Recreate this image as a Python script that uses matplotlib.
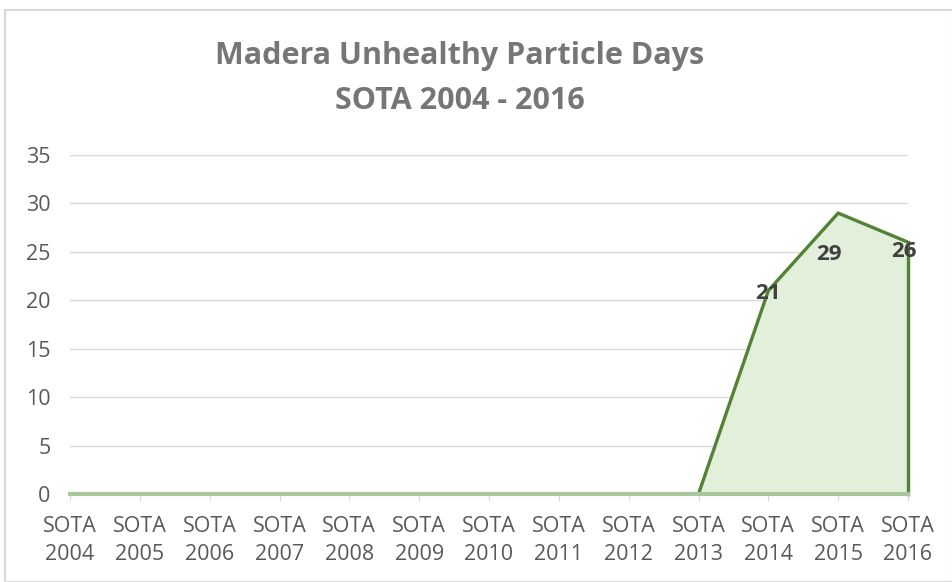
import matplotlib
matplotlib.use("Agg")
import matplotlib.pyplot as plt
from matplotlib.patches import Rectangle

years = ["2004", "2005", "2006", "2007", "2008", "2009", "2010",
         "2011", "2012", "2013", "2014", "2015", "2016"]
tick_labels = ["SOTA\n" + y for y in years]
days = [0, 0, 0, 0, 0, 0, 0, 0, 0, 0, 21, 29, 26]
label_points = [10, 11, 12]

plt.rcParams['font.family'] = ['Open Sans', 'DejaVu Sans']

W, H = 952, 582
fig = plt.figure(figsize=(W / 100, H / 100), dpi=100)
fig.patch.set_facecolor('white')

# outer chart border
fig.add_artist(Rectangle((5 / W, 0), (W - 4) / W, 1 - 10 / H,
                         transform=fig.transFigure, fill=False,
                         edgecolor='#d9d9d9', linewidth=1.5))

left, right = 70 / W, 908 / W
bottom, top = (H - 494) / H, (H - 155) / H
ax = fig.add_axes([left, bottom, right - left, top - bottom])

x = list(range(len(days)))
ax.fill_between(x, days, 0, color='#e2efda', zorder=2)
ax.plot(x, days, color='#548235', linewidth=2.4, zorder=3,
        solid_joinstyle='miter')
ax.plot([x[-1], x[-1]], [0, days[-1]], color='#548235', linewidth=2.4,
        zorder=3, clip_on=False)
ax.plot([x[0], x[-1]], [0, 0], color='#a9c79a', linewidth=3, zorder=3, clip_on=False)

offsets = {10: (0.0, -0.3), 11: (-0.13, -4.3), 12: (-0.06, -1.0)}
for i in label_points:
    dx, dy = offsets[i]
    ax.text(x[i] + dx, days[i] + dy, str(days[i]), ha='center', va='center',
            fontsize=16, fontweight='bold', color='#404040', zorder=4)

ax.set_xlim(0, len(days) - 1)
ax.set_ylim(0, 35)
ax.set_yticks(range(0, 36, 5))
ax.set_xticks(x)
ax.set_xticklabels(tick_labels)
ax.grid(axis='y', color='#d9d9d9', linewidth=1, zorder=0)
ax.set_axisbelow(True)
for s in ax.spines.values():
    s.set_visible(False)
ax.tick_params(axis='y', length=0, pad=14, labelsize=15.5, labelcolor='#595959')
ax.tick_params(axis='x', length=5, color='#d9d9d9', pad=11, labelsize=15.5,
               labelcolor='#595959')
for t in ax.get_xticklabels():
    t.set_linespacing(1.45)

fig.text(0.483, 1 - 56 / H, "Madera Unhealthy Particle Days", ha='center', va='center',
         fontsize=22, fontweight='bold', color='#767676')
fig.text(0.483, 1 - 101 / H, "SOTA 2004 - 2016", ha='center', va='center',
         fontsize=22, fontweight='bold', color='#767676')

fig.savefig("out.png", dpi=100)
